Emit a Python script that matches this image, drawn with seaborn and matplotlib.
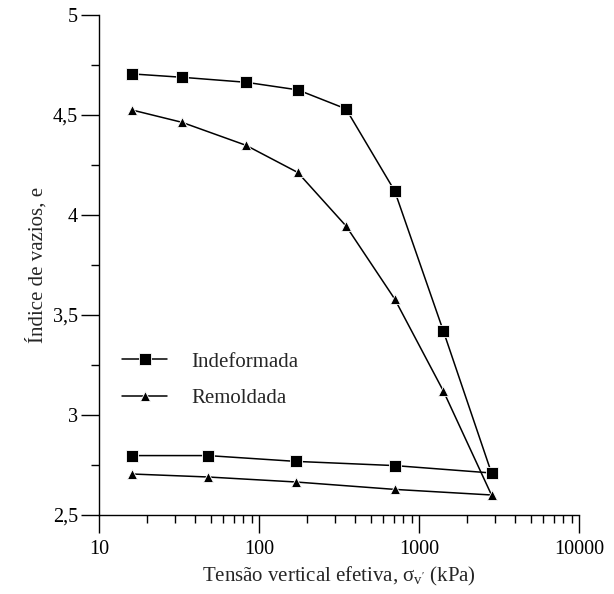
import numpy as np
import pandas as pd
import seaborn as sns
import matplotlib
matplotlib.use("Agg")
import matplotlib.pyplot as plt
from matplotlib.ticker import FixedLocator, FixedFormatter, LogLocator, NullFormatter

# ---- data ----
series_names = ["Indeformada", "Remoldada"]
x_indeformada = [16, 33, 83, 175, 350, 705, 1420, 2840, 705, 170, 48, 16]
e_indeformada = [4.705, 4.688, 4.663, 4.625, 4.53, 4.12, 3.42, 2.71, 2.747, 2.768, 2.797, 2.797]
x_remoldada = [16, 33, 83, 175, 350, 705, 1420, 2840, 705, 170, 48, 16]
e_remoldada = [4.525, 4.463, 4.348, 4.212, 3.945, 3.58, 3.12, 2.60, 2.628, 2.665, 2.69, 2.705]
y_ticks = [2.5, 3.0, 3.5, 4.0, 4.5, 5.0]
y_tick_labels = ["2,5", "3", "3,5", "4", "4,5", "5"]
x_ticks = [10, 100, 1000, 10000]
x_tick_labels = ["10", "100", "1000", "10000"]

df = pd.DataFrame({
    "x": x_indeformada + x_remoldada,
    "e": e_indeformada + e_remoldada,
    "serie": [series_names[0]] * len(x_indeformada) + [series_names[1]] * len(x_remoldada),
})

sns.set_style("ticks")
plt.rcParams["font.family"] = ["Liberation Serif", "DejaVu Serif"]
plt.rcParams["mathtext.fontset"] = "custom"
plt.rcParams["mathtext.rm"] = "Liberation Serif"
plt.rcParams["mathtext.it"] = "Liberation Serif:italic"

FS = 15
TFS = 14.5

fig = plt.figure(figsize=(6.14, 5.94), dpi=100)
ax = fig.add_axes([0.161, 0.133, 0.782, 0.842])

sns.lineplot(data=df, x="x", y="e", hue="serie", style="serie",
             palette=["black", "black"], markers={"Indeformada": "s", "Remoldada": "^"},
             dashes=False, sort=False, estimator=None, ax=ax, linewidth=1.1,
             mec="white", mew=0.6)
for line in ax.lines:
    if line.get_marker() == "s":
        line.set_markersize(8.5)
    else:
        line.set_markersize(7)

ax.set_xscale("log")
ax.set_xlim(10, 10000)
ax.set_ylim(2.5, 5.0)
ax.xaxis.set_major_locator(FixedLocator(x_ticks))
ax.xaxis.set_major_formatter(FixedFormatter(x_tick_labels))
ax.xaxis.set_minor_locator(LogLocator(base=10, subs=np.arange(2, 10)))
ax.xaxis.set_minor_formatter(NullFormatter())
ax.yaxis.set_major_locator(FixedLocator(y_ticks))
ax.yaxis.set_major_formatter(FixedFormatter(y_tick_labels))
ax.yaxis.set_minor_locator(FixedLocator([2.75, 3.25, 3.75, 4.25, 4.75]))

ax.tick_params(which="major", direction="out", length=13, width=1, labelsize=TFS, colors="black")
ax.tick_params(which="minor", direction="out", length=6, width=1, colors="black")
ax.tick_params(axis="x", which="major", pad=5)
ax.tick_params(axis="y", which="major", pad=2)
for s in ["top", "right"]:
    ax.spines[s].set_visible(False)
for s in ["left", "bottom"]:
    ax.spines[s].set_linewidth(1)
    ax.spines[s].set_color("black")

ax.set_xlabel("Tensão vertical efetiva, σ$_{\\mathrm{v}'}$ (kPa)", fontsize=FS, labelpad=4)
ax.set_ylabel("Índice de vazios, e", fontsize=FS, labelpad=4)

leg = ax.legend(loc="center left", bbox_to_anchor=(0.01, 0.27), frameon=False,
                fontsize=FS, handlelength=2.15, handletextpad=1.15, labelspacing=0.8)
for h in leg.legend_handles:
    h.set_color("black")

fig.savefig("out.png", dpi=100)
